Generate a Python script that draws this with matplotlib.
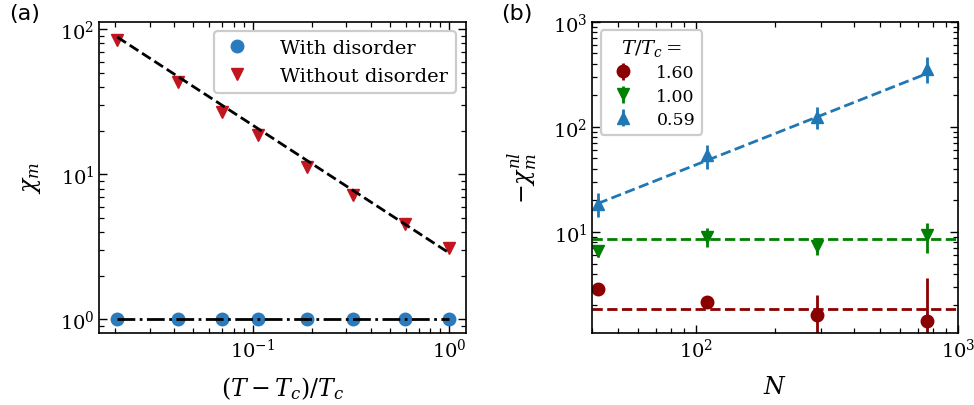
import numpy as np
import matplotlib
matplotlib.use("Agg")
import matplotlib.pyplot as plt

### DATA ###

# panel (a): reduced temperature and chi_m
t_red = [0.0205, 0.0417, 0.070, 0.106, 0.190, 0.325, 0.598, 1.0]
chi_with = [1.0, 1.0, 1.0, 1.0, 1.0, 1.0, 1.0, 1.0]
chi_without = [84.0, 43.4, 27.0, 18.7, 11.2, 7.24, 4.54, 3.09]
fit_a_amp = 2.87
fit_a_exp = -0.882

# panel (b): system size and -chi_m^nl
sizes = [42, 110, 289, 760]
labels_b = ["1.60", "1.00", "0.59"]
chi_nl_160 = [2.88, 2.18, 1.63, 1.43]
err_160 = [0.08, 0.1, 0.86, 2.2]
chi_nl_100 = [6.6, 9.0, 7.4, 9.3]
err_100 = [0.8, 1.8, 1.4, 3.0]
chi_nl_059 = [18.6, 53.7, 124.0, 359.0]
err_059 = [4.8, 14.0, 29.0, 100.0]
level_160 = 1.86
level_100 = 8.64
fit_b_amp = 0.471
fit_b_exp = 0.984

### STYLE ###

plt.rcParams["font.family"] = "DejaVu Serif"
plt.rcParams["mathtext.fontset"] = "dejavuserif"
plt.rcParams["axes.linewidth"] = 1.2
plt.rcParams["legend.edgecolor"] = "0.8"

c_blue = "#2a7bbd"
c_red = "#c1161f"
c_dred = "#8b0000"
c_green = "#008000"

fig = plt.figure(figsize=(9.74, 4.06), dpi=100)
ax1 = fig.add_axes([0.102, 0.178, 0.376, 0.766])
ax2 = fig.add_axes([0.608, 0.178, 0.376, 0.766])

def style_axis(ax):
    ax.set_xscale("log")
    ax.set_yscale("log")
    ax.tick_params(which="both", direction="in", top=True, right=True, labelsize=14)
    ax.tick_params(which="major", length=6, width=1.0)
    ax.tick_params(which="minor", length=3.5, width=0.9)

### PANEL (a) ###

style_axis(ax1)
ax1.plot(t_red, chi_with, "o", color=c_blue, ms=9, label="With disorder")
ax1.plot(t_red, chi_without, "v", color=c_red, ms=9, label="Without disorder")
x_fit = np.array([t_red[0], t_red[-1]])
ax1.plot(x_fit, fit_a_amp * x_fit ** fit_a_exp, "--", color="k", lw=2)
ax1.plot(x_fit, [chi_with[0], chi_with[-1]], "-.", color="k", lw=2)
ax1.set_xlim(0.0166, 1.21)
ax1.set_ylim(0.81, 113)
ax1.set_xlabel(r"$(T-T_c)/T_c$", fontsize=17, labelpad=10)
ax1.set_ylabel(r"$\chi_m$", fontsize=17, labelpad=12)
leg1 = ax1.legend(loc="upper right", fontsize=14, framealpha=1,
                  handlelength=1.6, handletextpad=1.4)
leg1.get_frame().set_linewidth(1.6)

### PANEL (b) ###

style_axis(ax2)
ax2.errorbar(sizes, chi_nl_160, yerr=err_160, fmt="o", color=c_dred, ms=9,
             elinewidth=2, capsize=0, label=labels_b[0])
ax2.errorbar(sizes, chi_nl_100, yerr=err_100, fmt="v", color=c_green, ms=9,
             elinewidth=2, capsize=0, label=labels_b[1])
ax2.errorbar(sizes, chi_nl_059, yerr=err_059, fmt="^", color="#1f77b4", ms=9,
             elinewidth=2, capsize=0, label=labels_b[2])
ax2.axhline(level_160, ls="--", color=c_dred, lw=2)
ax2.axhline(level_100, ls="--", color=c_green, lw=2)
n_fit = np.array([sizes[0], sizes[-1]])
ax2.plot(n_fit, fit_b_amp * n_fit ** fit_b_exp, "--", color="#1f77b4", lw=2)
ax2.set_xlim(40, 1000)
ax2.set_ylim(1.1, 1000)
ax2.set_xlabel(r"$N$", fontsize=17, labelpad=10)
ax2.set_ylabel(r"$-\chi_m^{nl}$", fontsize=17, labelpad=10)
leg2 = ax2.legend(loc="upper left", fontsize=12.5, title=r"$T/T_c =$",
                  title_fontsize=14, framealpha=1, handlelength=1.8,
                  labelspacing=0.35, handletextpad=1.0)
leg2.get_frame().set_linewidth(1.6)

fig.text(0.009, 0.99, "(a)", fontsize=16, family="DejaVu Sans", va="top")
fig.text(0.514, 0.99, "(b)", fontsize=16, family="DejaVu Sans", va="top")

fig.savefig("out.png", dpi=100)
